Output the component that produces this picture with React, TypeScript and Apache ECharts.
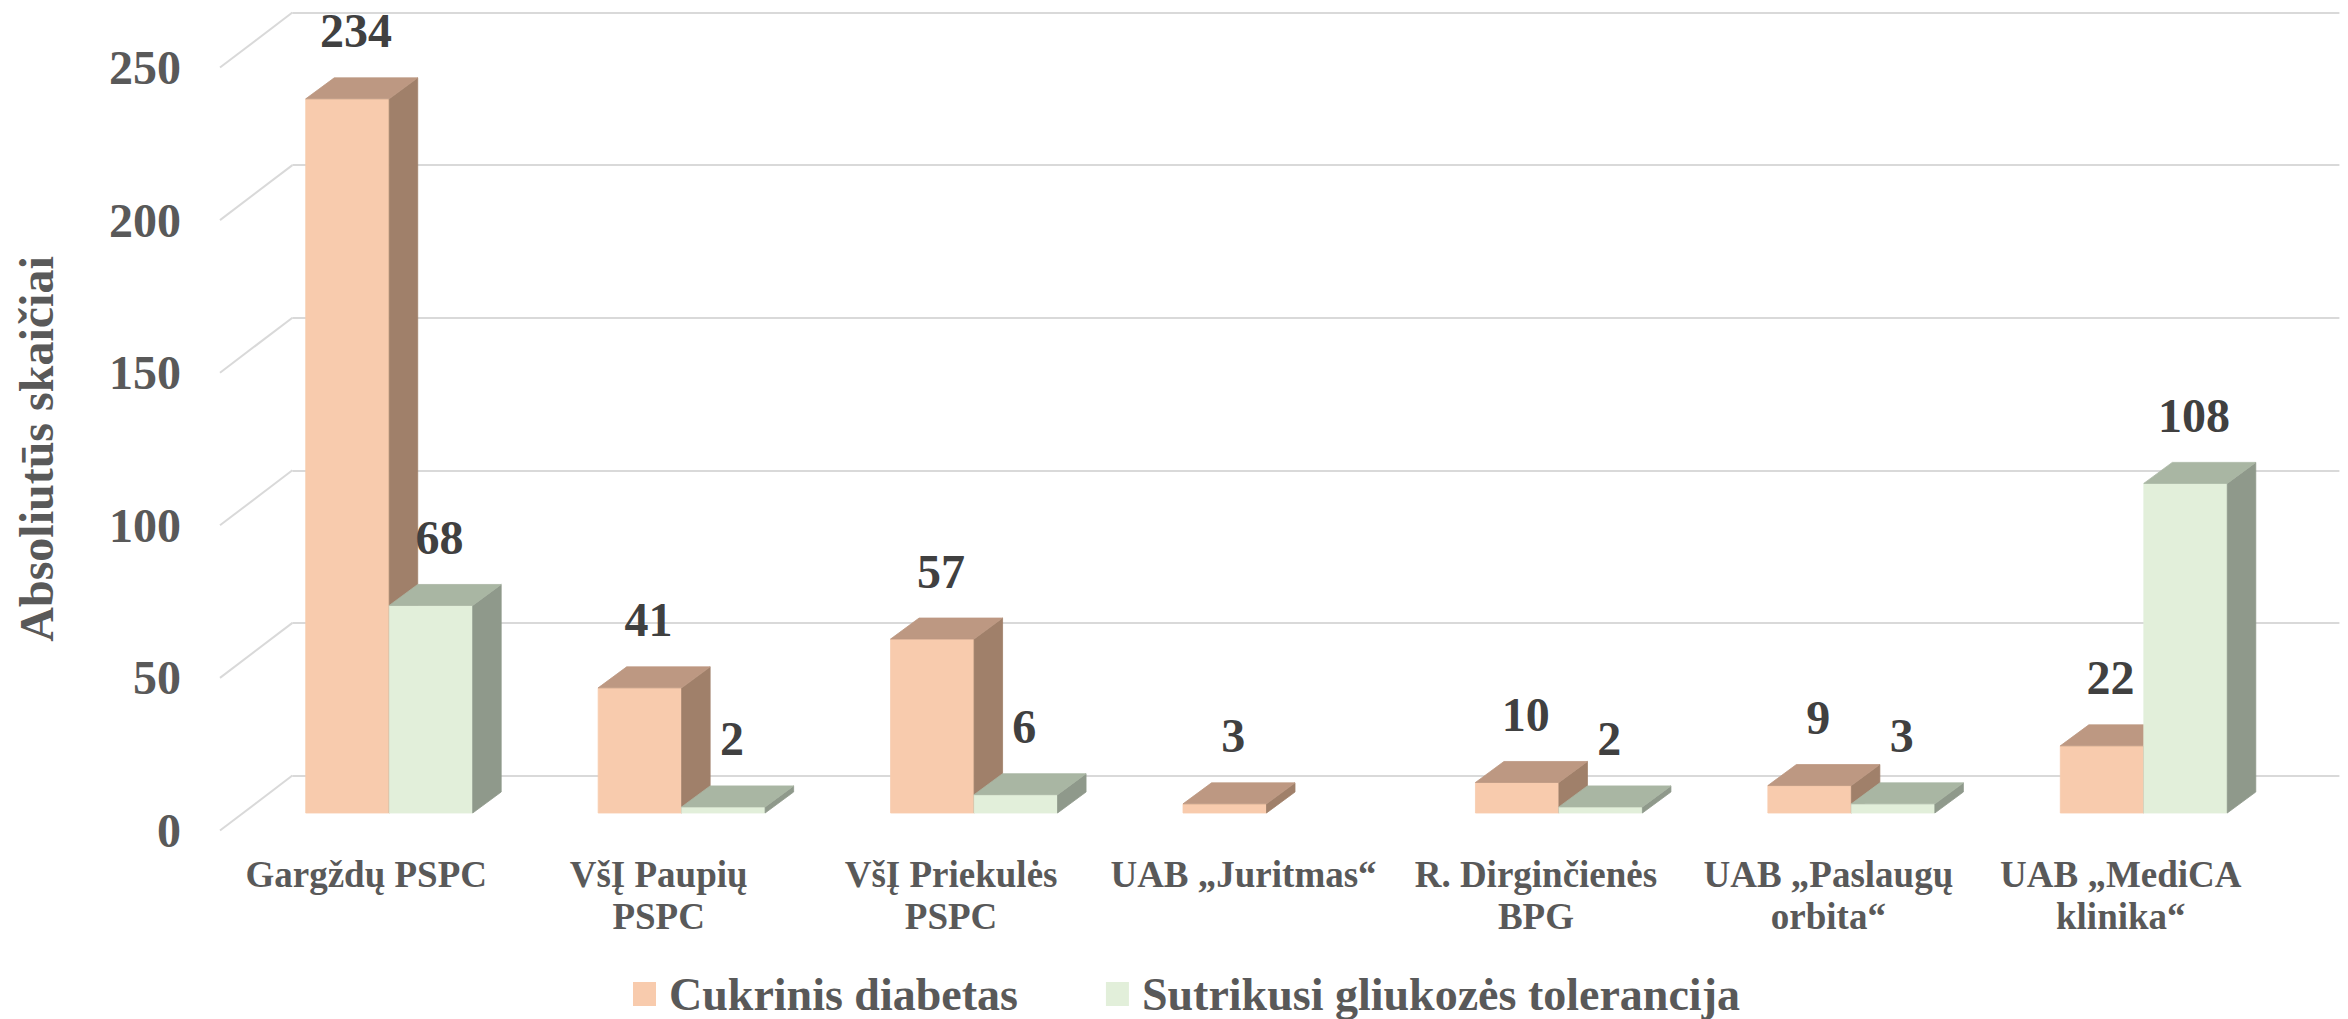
import React, { useEffect, useRef } from "react";
import * as echarts from "echarts";

// ---- data ----
const categories = [
  "Gargždų PSPC",
  "VšĮ Paupių\nPSPC",
  "VšĮ Priekulės\nPSPC",
  "UAB „Juritmas“",
  "R. Dirginčienės\nBPG",
  "UAB „Paslaugų\norbita“",
  "UAB „MediCA\nklinika“",
];
const diabetes: (number | null)[] = [234, 41, 57, 3, 10, 9, 22];
const tolerance: (number | null)[] = [68, 2, 6, null, 2, 3, 108];
const seriesNames = ["Cukrinis diabetas", "Sutrikusi gliukozės tolerancija"];
const yTicks = [0, 50, 100, 150, 200, 250];
const yAxisTitle = "Absoliutūs skaičiai";

// ---- layout / style ----
const W = 2348;
const H = 1019;
const FONT = '"Liberation Serif", "Times New Roman", serif';
// bar plane grid
const G_LEFT = 243;
const G_RIGHT = 58;
const G_TOP = 50;
const G_BOTTOM = 206;
// offsets from bar plane to front edge / back wall
const FX = -23;
const FY = 17.5;
const BX = 49.4;
const BY = -37.5;
// bar depth
const DX = 28.5;
const DY = -21;
const BAR_RATIO = 0.2855;

const palettes = [
  { front: "#F8CBAD", top: "#BD9882", side: "#A0806A" },
  { front: "#E2EFDA", top: "#A9B6A3", side: "#8F998B" },
];

function barRenderer(sIdx: number) {
  const pal = palettes[sIdx];
  return (params: any, api: any) => {
    const cat = api.value(0);
    const v = api.value(1);
    const base = api.coord([cat, 0]);
    const top = api.coord([cat, v]);
    const band = api.size([1, 0])[0];
    const w = band * BAR_RATIO;
    const x0 = sIdx === 0 ? base[0] - w : base[0];
    const x1 = x0 + w;
    const yb = base[1];
    const yt = top[1];
    return {
      type: "group",
      children: [
        {
          type: "rect",
          shape: { x: x0, y: yt, width: w, height: yb - yt },
          style: { fill: pal.front, stroke: pal.front, lineWidth: 0.8 },
        },
        {
          type: "polygon",
          shape: {
            points: [
              [x1, yt],
              [x1 + DX, yt + DY],
              [x1 + DX, yb + DY],
              [x1, yb],
            ],
          },
          style: { fill: pal.side, stroke: pal.side, lineWidth: 0.8 },
        },
        {
          type: "polygon",
          shape: {
            points: [
              [x0, yt],
              [x1, yt],
              [x1 + DX, yt + DY],
              [x0 + DX, yt + DY],
            ],
          },
          style: { fill: pal.top, stroke: pal.top, lineWidth: 0.8 },
        },
        {
          type: "text",
          style: {
            text: String(v),
            x: (x0 + x1) / 2 + DX * 0.3,
            y: yt - 68,
            align: "center",
            verticalAlign: "middle",
            fontSize: 48,
            fontWeight: "bold",
            fontFamily: FONT,
            fill: "#404040",
          },
        },
      ],
    };
  };
}

function toPairs(arr: (number | null)[]) {
  const out: number[][] = [];
  arr.forEach((v, i) => {
    if (v !== null && v !== undefined) out.push([i, v]);
  });
  return out;
}

export default function App() {
  const ref = useRef<HTMLDivElement>(null);
  useEffect(() => {
    if (!ref.current) return;
    const chart = echarts.init(ref.current, undefined, { renderer: "svg" });
    const option: any = {
      animation: false,
      backgroundColor: "#ffffff",
      grid: [
        // 0: front edge plane (labels)
        { left: G_LEFT + FX, right: G_RIGHT - FX, top: G_TOP + FY, bottom: G_BOTTOM - FY },
        // 1: bar plane
        { left: G_LEFT, right: G_RIGHT, top: G_TOP, bottom: G_BOTTOM },
        // 2: back wall
        { left: G_LEFT + BX, right: G_RIGHT - BX, top: G_TOP + BY, bottom: G_BOTTOM - BY },
      ],
      xAxis: [
        {
          gridIndex: 0,
          type: "category",
          data: categories,
          axisLine: { show: false },
          axisTick: { show: false },
          splitLine: { show: false },
          axisLabel: {
            interval: 0,
            margin: 23,
            fontSize: 37,
            lineHeight: 42,
            fontWeight: "bold",
            fontFamily: FONT,
            color: "#595959",
          },
        },
        {
          gridIndex: 1,
          type: "category",
          data: categories,
          show: false,
        },
        {
          gridIndex: 2,
          type: "value",
          min: 0,
          max: 1,
          show: false,
        },
      ],
      yAxis: [
        {
          gridIndex: 0,
          type: "value",
          min: 0,
          max: 250,
          interval: 50,
          axisLine: { show: false },
          axisTick: { show: false },
          splitLine: { show: false },
          axisLabel: {
            margin: 39,
            fontSize: 48,
            fontWeight: "bold",
            fontFamily: FONT,
            color: "#595959",
          },
          name: yAxisTitle,
          nameLocation: "middle",
          nameGap: 160,
          nameRotate: 90,
          nameTextStyle: {
            fontSize: 48,
            fontWeight: "bold",
            fontFamily: FONT,
            color: "#595959",
          },
        },
        {
          gridIndex: 1,
          type: "value",
          min: 0,
          max: 250,
          interval: 50,
          show: false,
        },
        {
          gridIndex: 2,
          type: "value",
          min: 0,
          max: 250,
          interval: 50,
          axisLine: { show: false },
          axisTick: { show: false },
          axisLabel: { show: false },
          splitLine: { show: true, lineStyle: { color: "#D9D9D9", width: 2 } },
        },
      ],
      legend: {
        data: seriesNames,
        left: 628,
        top: 966,
        icon: "rect",
        itemWidth: 23,
        itemHeight: 24,
        itemGap: 88,
        selectedMode: false,
        textStyle: {
          fontSize: 46,
          lineHeight: 46,
          fontWeight: "bold",
          fontFamily: FONT,
          color: "#595959",
          padding: [0, 0, 0, 8],
        },
      },
      series: [
        {
          name: "sideWall",
          type: "custom",
          xAxisIndex: 2,
          yAxisIndex: 2,
          silent: true,
          z: 1,
          data: yTicks.map((v) => [0, v]),
          encode: { x: 0, y: 1 },
          renderItem: (params: any, api: any) => {
            const p = api.coord([0, api.value(1)]);
            return {
              type: "line",
              shape: { x1: p[0] + (FX - BX), y1: p[1] + (FY - BY), x2: p[0], y2: p[1] },
              style: { stroke: "#D9D9D9", lineWidth: 2 },
            };
          },
        },
        {
          name: seriesNames[0],
          type: "custom",
          xAxisIndex: 1,
          yAxisIndex: 1,
          z: 3,
          itemStyle: { color: palettes[0].front },
          data: toPairs(diabetes),
          encode: { x: 0, y: 1 },
          renderItem: barRenderer(0),
        },
        {
          name: seriesNames[1],
          type: "custom",
          xAxisIndex: 1,
          yAxisIndex: 1,
          z: 4,
          itemStyle: { color: palettes[1].front },
          data: toPairs(tolerance),
          encode: { x: 0, y: 1 },
          renderItem: barRenderer(1),
        },
      ],
    };
    chart.setOption(option);
    return () => chart.dispose();
  }, []);
  return (
    <div
      ref={ref}
      style={{ position: "fixed", left: 0, top: 0, width: W, height: H, background: "#fff" }}
    />
  );
}
